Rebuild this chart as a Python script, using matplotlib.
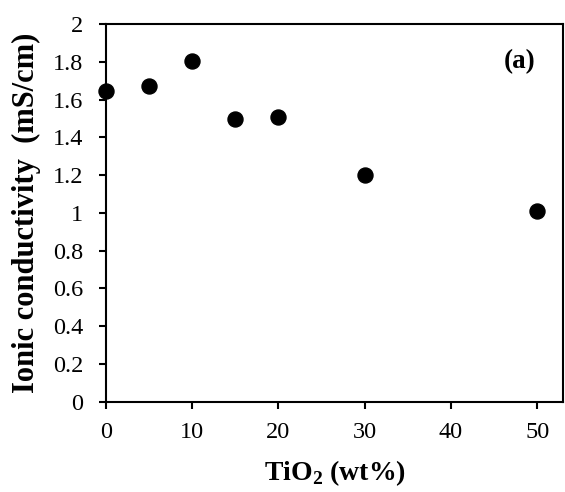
import matplotlib
matplotlib.use("Agg")
import matplotlib.pyplot as plt
from matplotlib.ticker import FuncFormatter, MultipleLocator

# TiO2 loading (wt%) vs ionic conductivity (mS/cm)
tio2_wt = [0, 5, 10, 15, 20, 30, 50]
conductivity = [1.647, 1.673, 1.804, 1.497, 1.509, 1.200, 1.010]

x_ticks = [0, 10, 20, 30, 40, 50]
panel_label = "(a)"

plt.rcParams["font.family"] = "Liberation Serif"
plt.rcParams["mathtext.fontset"] = "custom"
plt.rcParams["mathtext.rm"] = "Liberation Serif"
plt.rcParams["mathtext.bf"] = "Liberation Serif:bold"

fig = plt.figure(figsize=(5.65, 4.92), dpi=100)
ax = fig.add_axes([0.187, 0.1835, 0.81, 0.7675])

ax.plot(tio2_wt, conductivity, linestyle="none", marker="o", ms=10.8,
        color="black", clip_on=False, zorder=3)

ax.set_xlim(0, 53)
ax.set_ylim(0, 2)
ax.set_xticks(x_ticks)
ax.yaxis.set_major_locator(MultipleLocator(0.2))
ax.yaxis.set_major_formatter(FuncFormatter(lambda v, p: "{:g}".format(round(v, 2))))

for s in ax.spines.values():
    s.set_linewidth(1.5)
ax.tick_params(direction="out", length=5.3, width=1.5, labelsize=17.5)
ax.tick_params(axis="y", pad=11)
ax.tick_params(axis="x", pad=9)

ax.set_xlabel(r"TiO$_\mathbf{2}$ (wt%)", fontsize=20, fontweight="bold", labelpad=11)
ax.set_ylabel("Ionic conductivity  (mS/cm)", fontsize=22, fontweight="bold", labelpad=8)

ax.text(47.9, 1.8, panel_label, fontsize=19.5, fontweight="bold",
        ha="center", va="center")

fig.savefig("out.png", dpi=100)
